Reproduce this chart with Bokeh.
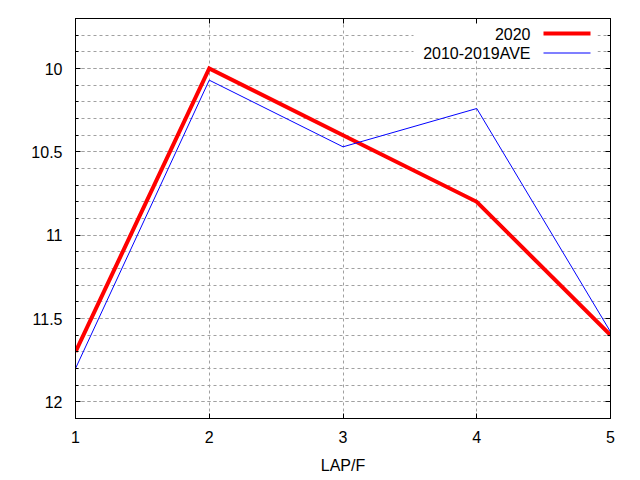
from bokeh.plotting import figure
from bokeh.models import (Range1d, LinearAxis, SingleIntervalTicker, NumeralTickFormatter,
                          BoxAnnotation, Label, ColumnDataSource, CustomJSTickFormatter)
from bokeh.embed import file_html
from bokeh.resources import INLINE

# ---- data ----
laps = [1, 2, 3, 4, 5]
y_2020 = [11.7, 10.0, 10.4, 10.8, 11.6]
y_ave = [11.8, 10.07, 10.47, 10.24, 11.58]
series_names = ["2020", "2010-2019AVE"]
x_label = "LAP/F"

X0, X1 = 1, 5
Y_TOP, Y_BOT = 9.7, 12.1

FONT = "Liberation Sans"
FS = "16px"
GRID = "#a0a0a0"

p = figure(width=640, height=480, output_backend="svg", toolbar_location=None,
           x_range=Range1d(X0, X1), y_range=Range1d(Y_BOT, Y_TOP),
           min_border_left=75, min_border_right=30, min_border_top=18, min_border_bottom=62,
           background_fill_color="white", border_fill_color="white")
p.outline_line_color = "black"
p.outline_line_width = 1

xt = SingleIntervalTicker(interval=1, num_minor_ticks=0)
yt = SingleIntervalTicker(interval=0.5, num_minor_ticks=5)
p.xaxis.ticker = xt
p.yaxis.ticker = yt
p.yaxis.formatter = NumeralTickFormatter(format="0.[0]")

def style_axis(ax):
    ax.axis_line_color = "black"
    ax.major_tick_line_color = "black"
    ax.minor_tick_line_color = "black"
    ax.major_tick_in = 5
    ax.major_tick_out = 0
    ax.minor_tick_in = 3
    ax.minor_tick_out = 0
    ax.major_label_text_font = FONT
    ax.major_label_text_font_size = FS
    ax.major_label_text_color = "black"
    ax.axis_label_text_font = FONT
    ax.axis_label_text_font_size = FS
    ax.axis_label_text_font_style = "normal"
    ax.axis_label_text_color = "black"

for ax in p.xaxis + p.yaxis:
    style_axis(ax)
p.yaxis.major_label_standoff = 13
p.xaxis.major_label_standoff = 12
p.xaxis.axis_label = x_label
p.xaxis.axis_label_standoff = 11

blank = CustomJSTickFormatter(code="return ''")
right = LinearAxis(ticker=yt, formatter=blank)
style_axis(right)
right.major_label_standoff = 0
p.add_layout(right, "right")
top = LinearAxis(ticker=xt, formatter=blank)
style_axis(top)
top.major_label_standoff = 0
p.add_layout(top, "above")

p.xgrid.ticker = xt
p.ygrid.ticker = yt
p.xgrid.grid_line_color = GRID
p.xgrid.grid_line_dash = "3 3"
p.ygrid.grid_line_color = GRID
p.ygrid.grid_line_dash = "3 3"
p.ygrid.minor_grid_line_color = GRID
p.ygrid.minor_grid_line_dash = "3 3"

# helpers mapping page pixels to data coords (for legend placement only)
def px_x(px):
    return X0 + (px - 75) * (X1 - X0) / 535.0

def px_y(py):
    return Y_TOP + (py - 18) * (Y_BOT - Y_TOP) / 400.0

# legend background
bg = BoxAnnotation(left=px_x(413), right=px_x(597), top=px_y(18), bottom=px_y(60),
                   fill_color="white", fill_alpha=1.0, line_color=None, level="underlay")
p.add_layout(bg)

src = ColumnDataSource(dict(lap=laps, a=y_2020, b=y_ave))
p.line("lap", "a", source=src, line_color="#ff0000", line_width=4, line_join="miter")
p.line("lap", "b", source=src, line_color="#0000ff", line_width=1, line_join="miter")

# legend
rows = [(series_names[0], "#ff0000", 4, 33), (series_names[1], "#0000ff", 1, 52.5)]
for name, col, lw, cy in rows:
    p.add_layout(Label(x=px_x(530), y=px_y(cy), text=name, text_align="right",
                       text_baseline="middle", text_font=FONT, text_font_size=FS,
                       text_color="black"))
    p.add_layout(BoxAnnotation(left=px_x(543), right=px_x(590),
                               top=px_y(cy - lw / 2.0), bottom=px_y(cy + lw / 2.0),
                               fill_color=col, fill_alpha=1.0, line_color=None))

open("out.html", "w").write(file_html(p, INLINE))
